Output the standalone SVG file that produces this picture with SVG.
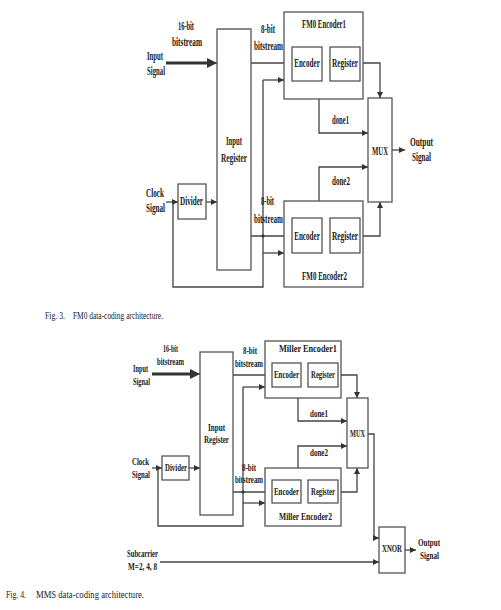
<svg xmlns="http://www.w3.org/2000/svg" width="501" height="610" viewBox="0 0 501 610">
<defs>
<style>
.bx{fill:#fff;stroke:#555;stroke-width:1.3}
.ln{fill:none;stroke:#444;stroke-width:1.3}
.th{fill:none;stroke:#333;stroke-width:3}
.t{font-family:"Liberation Serif",serif;font-weight:bold;fill:#1a1a1a}
.a{font-size:12px}
.b{font-size:10.5px}
.cap{font-family:"Liberation Serif",serif;font-size:11px;fill:#222}
</style>
<marker id="ah" viewBox="0 0 10 10" refX="10" refY="5" markerWidth="6" markerHeight="6" markerUnits="userSpaceOnUse" orient="auto"><path d="M0,0 L10,5 L0,10 z" fill="#333"/></marker>
<marker id="ahb" viewBox="0 0 10 10" refX="10" refY="5" markerWidth="10" markerHeight="10" markerUnits="userSpaceOnUse" orient="auto"><path d="M0,0 L10,5 L0,10 z" fill="#333"/></marker>
</defs>
<rect width="501" height="610" fill="#fff"/>

<!-- ===== Fig. 3 ===== -->
<g id="connectors3">
<line class="th" x1="166" y1="63" x2="208" y2="63"/>
<path class="ln" d="M208,63 L217,63" marker-end="url(#ahb)"/>
<path class="ln" d="M166,202 L178,202" marker-end="url(#ah)"/>
<path class="ln" d="M206,202 L217,202" marker-end="url(#ah)"/>
<path class="ln" d="M251,63 L292,63" marker-end="url(#ah)"/>
<path class="ln" d="M251,236 L292,236" marker-end="url(#ah)"/>
<path class="ln" d="M173,202 L173,287 L263,287 L263,80"/>
<path class="ln" d="M263,80 L284,80" marker-end="url(#ah)"/>
<path class="ln" d="M263,253 L284,253" marker-end="url(#ah)"/>
<circle cx="263" cy="236" r="1.6" fill="#333"/>
<path class="ln" d="M322,63 L330,63" marker-end="url(#ah)"/>
<path class="ln" d="M322,236 L330,236" marker-end="url(#ah)"/>
<path class="ln" d="M360,63 L380,63 L380,98" marker-end="url(#ah)"/>
<path class="ln" d="M360,236 L380,236 L380,202" marker-end="url(#ah)"/>
<path class="ln" d="M319,99 L319,133 L368,133" marker-end="url(#ah)"/>
<path class="ln" d="M319,201 L319,167 L368,167" marker-end="url(#ah)"/>
<path class="ln" d="M392,150 L405,150" marker-end="url(#ah)"/>
</g>
<g id="labels3">
<text class="t a" x="178" y="30" textLength="16" lengthAdjust="spacingAndGlyphs">16-bit</text>
<text class="t a" x="172" y="46" textLength="30" lengthAdjust="spacingAndGlyphs">bitstream</text>
<text class="t a" x="147" y="60" textLength="16" lengthAdjust="spacingAndGlyphs">Input</text>
<text class="t a" x="147" y="75" textLength="18" lengthAdjust="spacingAndGlyphs">Signal</text>
<text class="t a" x="146" y="197" textLength="18" lengthAdjust="spacingAndGlyphs">Clock</text>
<text class="t a" x="146" y="212" textLength="19" lengthAdjust="spacingAndGlyphs">Signal</text>
<text class="t a" x="261" y="33" textLength="14" lengthAdjust="spacingAndGlyphs">8-bit</text>
<text class="t a" x="254" y="50" textLength="29" lengthAdjust="spacingAndGlyphs">bitstream</text>
<text class="t a" x="261" y="205" textLength="13" lengthAdjust="spacingAndGlyphs">8-bit</text>
<text class="t a" x="254" y="223" textLength="29" lengthAdjust="spacingAndGlyphs">bitstream</text>
<text class="t a" x="332" y="124" textLength="17" lengthAdjust="spacingAndGlyphs">done1</text>
<text class="t a" x="332" y="185" textLength="18" lengthAdjust="spacingAndGlyphs">done2</text>
<text class="t a" x="410" y="146" textLength="23" lengthAdjust="spacingAndGlyphs">Output</text>
<text class="t a" x="412" y="161" textLength="19" lengthAdjust="spacingAndGlyphs">Signal</text>
</g>
<g id="input-register-3">
<rect class="bx" x="217" y="29" width="34" height="241"/>
<line x1="217" y1="29" x2="251" y2="29" stroke="#888" stroke-width="2.2"/>
<text class="t a" x="226" y="145" textLength="16" lengthAdjust="spacingAndGlyphs">Input</text>
<text class="t a" x="221" y="162" textLength="26" lengthAdjust="spacingAndGlyphs">Register</text>
</g>
<g id="divider-3">
<rect class="bx" x="178" y="184" width="28" height="35"/>
<text class="t a" x="180" y="205" textLength="23" lengthAdjust="spacingAndGlyphs">Divider</text>
</g>
<g id="fm0-encoder1">
<rect class="bx" x="284" y="12" width="79" height="87"/>
<text class="t a" x="302" y="28" textLength="44" lengthAdjust="spacingAndGlyphs">FM0 Encoder1</text>
<rect class="bx" x="292" y="47" width="30" height="34"/>
<text class="t" font-size="11.5" text-anchor="middle" transform="translate(307,67) scale(0.62,1)">Encoder</text>
<rect class="bx" x="330" y="47" width="30" height="34"/>
<text class="t" font-size="11.5" text-anchor="middle" transform="translate(345,67) scale(0.64,1)">Register</text>
</g>
<g id="fm0-encoder2">
<rect class="bx" x="284" y="201" width="79" height="86"/>
<text class="t a" x="302" y="280" textLength="45" lengthAdjust="spacingAndGlyphs">FM0 Encoder2</text>
<rect class="bx" x="292" y="218" width="30" height="35"/>
<text class="t" font-size="11.5" text-anchor="middle" transform="translate(307,240) scale(0.62,1)">Encoder</text>
<rect class="bx" x="330" y="218" width="30" height="35"/>
<text class="t" font-size="11.5" text-anchor="middle" transform="translate(345,240) scale(0.64,1)">Register</text>
</g>
<g id="mux-3">
<rect class="bx" x="368" y="98" width="24" height="104"/>
<text class="t a" x="372" y="155" textLength="16" lengthAdjust="spacingAndGlyphs">MUX</text>
</g>
<g id="caption3">
<text class="cap" x="45" y="319" textLength="20" lengthAdjust="spacingAndGlyphs">Fig. 3.</text>
<text class="cap" x="73" y="319" textLength="90" lengthAdjust="spacingAndGlyphs">FM0 data-coding architecture.</text>
</g>

<!-- ===== Fig. 4 ===== -->
<g id="connectors4">
<line class="th" x1="152" y1="374" x2="192" y2="374"/>
<path class="ln" d="M192,374 L200,374" marker-end="url(#ahb)"/>
<path class="ln" d="M152,468 L162,468" marker-end="url(#ah)"/>
<path class="ln" d="M189,468 L200,468" marker-end="url(#ah)"/>
<path class="ln" d="M233,375 L272,375" marker-end="url(#ah)"/>
<path class="ln" d="M233,492 L272,492" marker-end="url(#ah)"/>
<path class="ln" d="M158,468 L158,526 L243,526 L243,387"/>
<path class="ln" d="M243,387 L265,387" marker-end="url(#ah)"/>
<path class="ln" d="M243,503 L265,503" marker-end="url(#ah)"/>
<circle cx="243" cy="492" r="1.6" fill="#333"/>
<path class="ln" d="M301,375 L308,375" marker-end="url(#ah)"/>
<path class="ln" d="M301,492 L308,492" marker-end="url(#ah)"/>
<path class="ln" d="M338,375 L357,375 L357,398" marker-end="url(#ah)"/>
<path class="ln" d="M338,492 L357,492 L357,468" marker-end="url(#ah)"/>
<path class="ln" d="M298,398 L298,421 L347,421" marker-end="url(#ah)"/>
<path class="ln" d="M298,468 L298,446 L347,446" marker-end="url(#ah)"/>
<path class="ln" d="M368,434 L374,434 L374,538 L379,538" marker-end="url(#ah)"/>
<path class="ln" d="M160,562 L379,562" marker-end="url(#ah)"/>
<path class="ln" d="M405,550 L416,550" marker-end="url(#ah)"/>
</g>
<g id="labels4">
<text class="t b" x="163" y="352" textLength="15" lengthAdjust="spacingAndGlyphs">16-bit</text>
<text class="t b" x="157" y="365" textLength="27" lengthAdjust="spacingAndGlyphs">bitstream</text>
<text class="t b" x="133" y="372" textLength="15" lengthAdjust="spacingAndGlyphs">Input</text>
<text class="t b" x="133" y="385" textLength="17" lengthAdjust="spacingAndGlyphs">Signal</text>
<text class="t b" x="132" y="465" textLength="17" lengthAdjust="spacingAndGlyphs">Clock</text>
<text class="t b" x="132" y="478" textLength="18" lengthAdjust="spacingAndGlyphs">Signal</text>
<text class="t b" x="243" y="354" textLength="14" lengthAdjust="spacingAndGlyphs">8-bit</text>
<text class="t b" x="235" y="367" textLength="28" lengthAdjust="spacingAndGlyphs">bitstream</text>
<text class="t b" x="242" y="471" textLength="14" lengthAdjust="spacingAndGlyphs">8-bit</text>
<text class="t b" x="235" y="483" textLength="28" lengthAdjust="spacingAndGlyphs">bitstream</text>
<text class="t b" x="310" y="417" textLength="18" lengthAdjust="spacingAndGlyphs">done1</text>
<text class="t b" x="310" y="456" textLength="18" lengthAdjust="spacingAndGlyphs">done2</text>
<text class="t b" x="127" y="557" textLength="31" lengthAdjust="spacingAndGlyphs">Subcarrier</text>
<text class="t b" x="128" y="570" textLength="29" lengthAdjust="spacingAndGlyphs">M=2, 4, 8</text>
<text class="t b" x="418" y="546" textLength="22" lengthAdjust="spacingAndGlyphs">Output</text>
<text class="t b" x="420" y="559" textLength="19" lengthAdjust="spacingAndGlyphs">Signal</text>
</g>
<g id="input-register-4">
<rect class="bx" x="200" y="352" width="33" height="163"/>
<text class="t b" x="208" y="431" textLength="17" lengthAdjust="spacingAndGlyphs">Input</text>
<text class="t b" x="204" y="443" textLength="25" lengthAdjust="spacingAndGlyphs">Register</text>
</g>
<g id="divider-4">
<rect class="bx" x="162" y="456" width="27" height="24"/>
<text class="t b" x="165" y="471" textLength="22" lengthAdjust="spacingAndGlyphs">Divider</text>
</g>
<g id="miller-encoder1">
<rect class="bx" x="265" y="341" width="76" height="57"/>
<text class="t b" x="279" y="352" textLength="58" lengthAdjust="spacingAndGlyphs">Miller Encoder1</text>
<rect class="bx" x="272" y="363" width="29" height="24"/>
<text class="t b" x="274" y="378" textLength="25" lengthAdjust="spacingAndGlyphs">Encoder</text>
<rect class="bx" x="308" y="363" width="30" height="24"/>
<text class="t b" x="311" y="378" textLength="24" lengthAdjust="spacingAndGlyphs">Register</text>
</g>
<g id="miller-encoder2">
<rect class="bx" x="265" y="468" width="76" height="58"/>
<text class="t b" x="279" y="520" textLength="53" lengthAdjust="spacingAndGlyphs">Miller Encoder2</text>
<rect class="bx" x="272" y="480" width="29" height="23"/>
<text class="t b" x="274" y="495" textLength="25" lengthAdjust="spacingAndGlyphs">Encoder</text>
<rect class="bx" x="308" y="480" width="30" height="23"/>
<text class="t b" x="311" y="495" textLength="24" lengthAdjust="spacingAndGlyphs">Register</text>
</g>
<g id="mux-4">
<rect class="bx" x="347" y="398" width="21" height="70"/>
<text class="t b" x="350" y="437" textLength="15" lengthAdjust="spacingAndGlyphs">MUX</text>
</g>
<g id="xnor">
<rect class="bx" x="379" y="527" width="26" height="46"/>
<text class="t b" x="382" y="552" textLength="20" lengthAdjust="spacingAndGlyphs">XNOR</text>
</g>
<g id="caption4">
<text class="cap" x="6" y="598" textLength="20" lengthAdjust="spacingAndGlyphs">Fig. 4.</text>
<text class="cap" x="36" y="598" textLength="108" lengthAdjust="spacingAndGlyphs">MMS data-coding architecture.</text>
</g>
</svg>
